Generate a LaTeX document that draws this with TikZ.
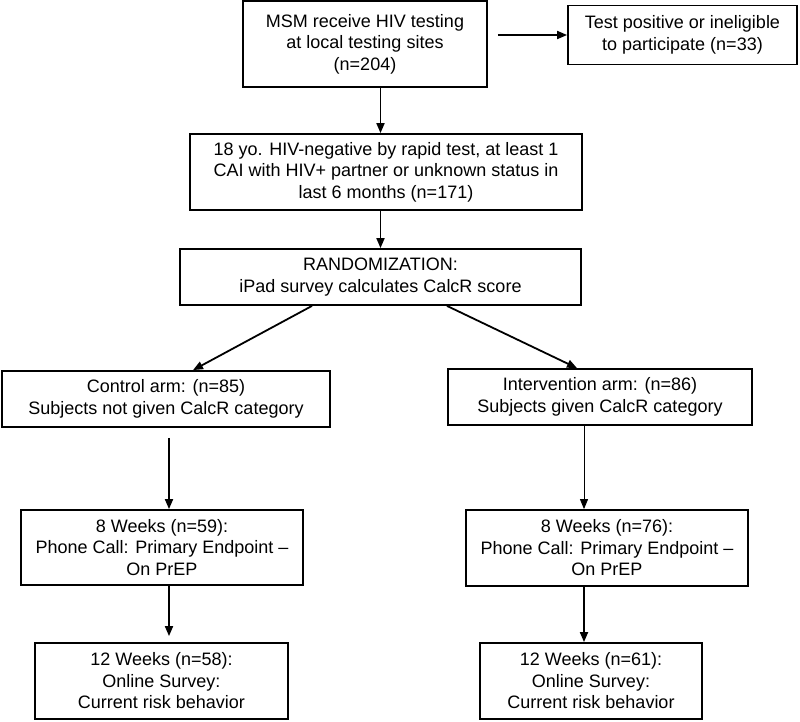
\documentclass[tikz,border=0pt]{standalone}
\usepackage{fontspec}
\setmainfont{Liberation Sans}
\usetikzlibrary{arrows.meta}
\begin{document}
\begin{tikzpicture}[x=1pt,y=-1pt,
  box/.style={draw,line width=1.8pt,align=center,inner sep=0pt,font=\fontsize{18}{21.5}\selectfont},
  arr/.style={line width=1.8pt,-{Triangle[length=10pt,width=8pt]}},
  thinarr/.style={line width=0.9pt,-{Triangle[length=10pt,width=8pt]}}]
\useasboundingbox (0,0) rectangle (800,721);
\node[box,minimum width=244,minimum height=86] (b1) at (365,44) {MSM receive HIV testing\\at local testing sites\\(n=204)};
\node[box,minimum width=229,minimum height=59] (b2) at (682.5,35) {Test positive or ineligible\\to participate (n=33)};
\node[box,minimum width=392,minimum height=76] (b3) at (386,172) {18 yo. HIV-negative by rapid test, at least 1\\CAI with HIV+ partner or unknown status in\\last 6 months (n=171)};
\node[box,minimum width=401,minimum height=56] (b4) at (380.5,277) {RANDOMIZATION:\\iPad survey calculates CalcR score};
\node[box,minimum width=328,minimum height=56] (b5) at (166,399) {Control arm: (n=85)\\Subjects not given CalcR category};
\node[box,minimum width=304,minimum height=56] (b6) at (600,397) {Intervention arm: (n=86)\\Subjects given CalcR category};
\node[box,minimum width=282,minimum height=75] (b7) at (162,547.5) {8 Weeks (n=59):\\Phone Call: Primary Endpoint –\\On PrEP};
\node[box,minimum width=282,minimum height=76] (b8) at (607,548) {8 Weeks (n=76):\\Phone Call: Primary Endpoint –\\On PrEP};
\node[box,minimum width=253,minimum height=76] (b9) at (161.5,681) {12 Weeks (n=58):\\Online Survey:\\Current risk behavior};
\node[box,minimum width=222,minimum height=76] (b10) at (591,681) {12 Weeks (n=61):\\Online Survey:\\Current risk behavior};
\coordinate (c1) at (380.5,0);
\coordinate (l1) at (169,0);
\coordinate (r1) at (584,0);
\draw[arr,shorten <=10pt] (b1.east |- b2.west) -- (b2.west);
\draw[arr] (b1.south -| c1) -- (b3.north -| c1);
\draw[arr] (b3.south -| c1) -- (b4.north -| c1);
\draw[arr] ([xshift=-68.5pt]b4.south) -- ([xshift=27pt]b5.north);
\draw[arr] ([xshift=66.5pt]b4.south) -- ([xshift=-23pt]b6.north);
\draw[arr,shorten <=10pt] (b5.south -| l1) -- (b7.north -| l1);
\draw[thinarr] (b6.south -| r1) -- (b8.north -| r1);
\draw[arr,shorten >=6pt] (b7.south -| l1) -- (b9.north -| l1);
\draw[arr] (b8.south -| r1) -- (b10.north -| r1);
\end{tikzpicture}
\end{document}
